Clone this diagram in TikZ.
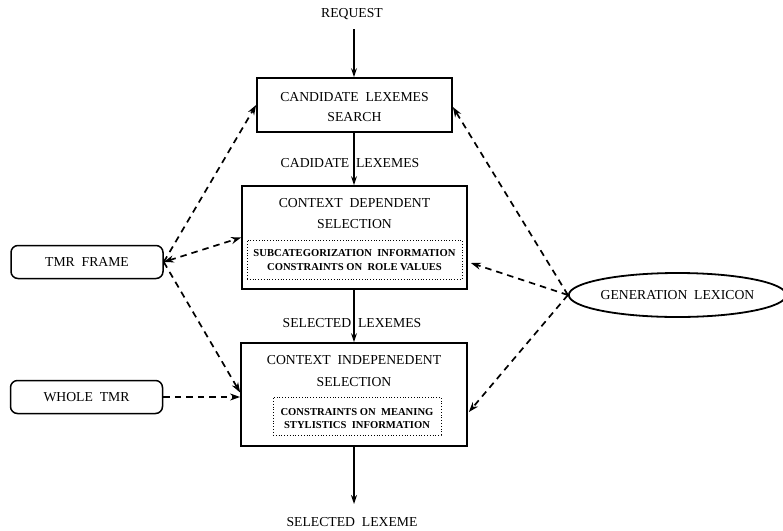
\documentclass[tikz,border=0pt]{standalone}
\usepackage{fontspec}
\setmainfont{Liberation Serif}
\usetikzlibrary{arrows.meta,shapes.geometric,calc}
\tikzset{
  mainbox/.style={draw,line width=1.8pt,inner sep=0pt},
  innerbox/.style={draw,dotted,line width=0.8pt,inner sep=0pt},
  srcbox/.style={draw,rounded corners=7pt,line width=1.5pt,inner sep=0pt,minimum width=152pt,minimum height=33pt,font=\fontsize{13.7}{15}\selectfont},
  lbl/.style={inner sep=0pt,font=\fontsize{13.7}{15}\selectfont},
  boxtxt/.style={inner sep=0pt,font=\fontsize{13.7}{15}\selectfont},
  smalltxt/.style={inner sep=0pt,font=\bfseries\fontsize{10.6}{13.5}\selectfont,align=center},
  flow/.style={line width=1.6pt,-{Stealth[length=9pt,width=6pt]}},
  dflow/.style={line width=1.7pt,dash pattern=on 6.5pt off 5pt,-{Stealth[length=10pt,width=7pt]}},
  dflowb/.style={line width=1.7pt,dash pattern=on 6.5pt off 5pt,{Stealth[length=10pt,width=7pt]}-{Stealth[length=10pt,width=7pt]}}
}
\begin{document}
\begin{tikzpicture}[x=1pt,y=-1pt]
\useasboundingbox (0,0) rectangle (783,530);
% main boxes
\node[mainbox,minimum width=195pt,minimum height=54pt] (box1) at (354.5,105) {};
\node[boxtxt] at (354.5,97) {CANDIDATE\ \ LEXEMES};
\node[boxtxt] at (354.5,117) {SEARCH};
\node[mainbox,minimum width=225pt,minimum height=103pt] (box2) at (354.5,237.5) {};
\node[boxtxt] at (354.5,203) {CONTEXT\ \ DEPENDENT};
\node[boxtxt] at (354.5,224) {SELECTION};
\node[innerbox,minimum width=215pt,minimum height=39pt] (in2) at (354.5,259.5) {};
\node[smalltxt] at (354.5,260) {SUBCATEGORIZATION\ \ INFORMATION\\CONSTRAINTS ON\ \ ROLE VALUES};
\node[mainbox,minimum width=226pt,minimum height=103pt] (box3) at (354,394.5) {};
\node[boxtxt] at (354,360) {CONTEXT\ \ INDEPENEDENT};
\node[boxtxt] at (354,382) {SELECTION};
\node[innerbox,minimum width=168pt,minimum height=38pt] (in3) at (357,416) {};
\node[smalltxt] at (357,418.5) {CONSTRAINTS ON\ \ MEANING\\STYLISTICS\ \ INFORMATION};
% side nodes
\node[srcbox] (tmrf) at (87,262) {TMR\ \ FRAME};
\node[srcbox] (whole) at (86.5,397) {WHOLE\ \ TMR};
\node[draw,ellipse,line width=1.8pt,minimum width=211pt,minimum height=44pt,inner sep=0pt,font=\fontsize{13.7}{15}\selectfont] (gen) at (677.5,295) {GENERATION\ \ LEXICON};
% labels
\node[lbl] (req) at (352,14) {REQUEST};
\node[lbl] (cand) at (350,163) {CADIDATE\ \ LEXEMES};
\node[lbl] (sell) at (352,323) {SELECTED\ \ LEXEMES};
\node[lbl] (fin) at (352,522) {SELECTED\ \ LEXEME};
\coordinate (top) at (354,29);
\coordinate (bot) at (354,504);
% solid flow
\draw[flow] (top) -- (box1.north -| top);
\draw[flow] (box1.south -| top) -- (box2.north -| top);
\draw[flow] (box2.south -| top) -- (box3.north -| top);
\draw[flow] (box3.south -| bot) -- (bot);
% dashed from TMR frame
\draw[dflow] (tmrf.east) -- (box1.west);
\draw[dflowb] (tmrf.east) -- (box2.west);
\draw[dflow] (tmrf.east) -- ([yshift=2pt]box3.west);
\draw[dflow] (whole.east) -- (whole.east -| box3.west);
% dashed from generation lexicon
\draw[dflow] (gen.west) -- ([yshift=-2pt]box1.east);
\draw[dflow] (gen.west) -- ([xshift=3pt,yshift=-25.5pt]box2.east);
\draw[dflow] (gen.west) -- ([xshift=1pt,yshift=-17.5pt]box3.east);
\end{tikzpicture}
\end{document}
